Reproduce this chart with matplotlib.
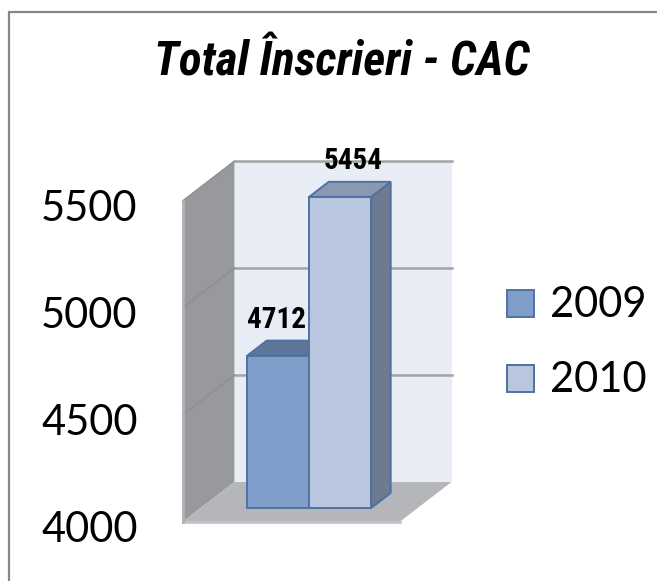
import matplotlib
matplotlib.use("Agg")
import matplotlib.pyplot as plt
from matplotlib.patches import Polygon, Rectangle
from matplotlib.lines import Line2D
from matplotlib.transforms import offset_copy
from matplotlib import font_manager as fm

# ---------------- data ----------------
title = "Total Înscrieri - CAC"
series = ["2009", "2010"]
values = [4712, 5454]
yticks = [4000, 4500, 5000, 5500]
ytick_labels = ["4000", "4500", "5000", "5500"]
v_min, v_max = 4000, 5500

# ---------------- style ----------------
front_colors = ["#7F9DC9", "#B8C6E0"]
top_colors = ["#5F7598", "#8B98AF"]
side_colors = ["#5A6C88", "#6E7A8F"]
edge_color = "#4F72A4"


def has_font(name):
    try:
        fm.findfont(fm.FontProperties(family=name), fallback_to_default=False)
        return True
    except Exception:
        return False


def find_narrow(italic):
    """Look for a narrow/condensed bold font file; return (FontProperties, is_narrow)."""
    cands = []
    for f in fm.fontManager.ttflist:
        nm = (f.name or "").lower()
        fn = (f.fname or "").lower()
        narrowish = ("narrow" in nm or "narrow" in fn or "condensed" in nm or "condensed" in fn
                     or str(f.stretch) in ("condensed", "semi-condensed", "extra-condensed"))
        if not narrowish:
            continue
        bold = ("bold" in fn) or (str(f.weight) in ("bold", "700", "heavy", "black")) or \
               (isinstance(f.weight, int) and f.weight >= 600)
        if not bold:
            continue
        if "extrabold" in fn or "black" in fn or "semibold" in fn:
            continue
        it = ("italic" in fn) or ("oblique" in fn) or f.style in ("italic", "oblique")
        score = 0
        if "liberation" in fn:
            score += 10
        elif "roboto" in fn:
            score += 6
        elif "dejavu" in fn:
            score += 2
        if it == italic:
            score += 5
        cands.append((score, f.fname))
    if cands:
        cands.sort(reverse=True)
        return fm.FontProperties(fname=cands[0][1]), True
    return None, False


body = "Lato" if has_font("Lato") else "DejaVu Sans"
title_fp, title_narrow = find_narrow(italic=True)
label_fp, label_narrow = find_narrow(italic=False)
if title_fp is None:
    title_fp = fm.FontProperties(family="Liberation Sans", weight="bold", style="italic")
if label_fp is None:
    label_fp = fm.FontProperties(family="Liberation Sans", weight="bold")
title_fp.set_size(34 if title_narrow else 29)
label_fp.set_size(21 if label_narrow else 18)

W, H = 657, 581
fig = plt.figure(figsize=(W / 100, H / 100), dpi=100)
fig.patch.set_facecolor("white")

# layout (pixels)
PX_PER_CAT = 62.0
PX_PER_VAL = 321.0 / 1500.0
X0_PX = 229.0   # x=0 at front plane
Y0_PX = 522.0   # v=v_min at front plane (from top)
DEPTH_X_PX, DEPTH_Y_PX = 52.0, 40.0

ax = fig.add_axes([0, 0, 1, 1])
ax.set_xlim(-X0_PX / PX_PER_CAT, (W - X0_PX) / PX_PER_CAT)
ax.set_ylim(v_min - (H - Y0_PX) / PX_PER_VAL, v_min + Y0_PX / PX_PER_VAL)
ax.axis("off")

DX = DEPTH_X_PX / PX_PER_CAT
DV = DEPTH_Y_PX / PX_PER_VAL


def P(x, v, t):
    return (x + t * DX, v + t * DV)


margin = 0.75
xl, xr = -margin, len(series) + margin

# walls & floor
side_wall = [P(xl, v_min, 0), P(xl, v_min, 1), P(xl, v_max, 1), P(xl, v_max, 0)]
floor = [P(xl, v_min, 0), P(xr, v_min, 0), P(xr, v_min, 1), P(xl, v_min, 1)]
back_wall = [P(xl, v_min, 1), P(xr, v_min, 1), P(xr, v_max, 1), P(xl, v_max, 1)]
ax.add_patch(Polygon(back_wall, closed=True, fc="#E8ECF5", ec="none", zorder=1))
ax.add_patch(Polygon(side_wall, closed=True, fc="#97999D", ec="none", zorder=1))
ax.add_patch(Polygon(floor, closed=True, fc="#B4B6BA", ec="none", zorder=1))

# gridlines
for v in yticks[1:]:
    (a, b), (c, d) = P(xl, v, 1), P(xr, v, 1)
    ax.add_line(Line2D([a, c], [b, d], color="#A3A3A3", lw=1.8, zorder=2))
    (a, b), (c, d) = P(xl, v, 0), P(xl, v, 1)
    ax.add_line(Line2D([a, c], [b, d], color="#8C8E92", lw=1.0, zorder=2))

# wall thickness hints
(a, b), (c, d) = P(xl, v_min, 0), P(xr, v_min, 0)
ax.add_line(Line2D([a, c], [b, d], color="#C4C5C8", lw=2.0, zorder=2))
(a, b), (c, d) = P(xl, v_min, 0), P(xl, v_max, 0)
ax.add_line(Line2D([a, c], [b, d], color="#B0B1B4", lw=2.0, zorder=2))

# bars
t0, t1 = 0.35, 0.725
for i, v in enumerate(values):
    x0, x1 = i, i + 1
    side = [P(x1, v_min, t0), P(x1, v_min, t1), P(x1, v, t1), P(x1, v, t0)]
    top = [P(x0, v, t0), P(x1, v, t0), P(x1, v, t1), P(x0, v, t1)]
    front = [P(x0, v_min, t0), P(x1, v_min, t0), P(x1, v, t0), P(x0, v, t0)]
    z = 3 + i
    ax.add_patch(Polygon(side, closed=True, fc=side_colors[i], ec=edge_color, lw=1.4, zorder=z))
    ax.add_patch(Polygon(top, closed=True, fc=top_colors[i], ec=edge_color, lw=1.4, zorder=z))
    ax.add_patch(Polygon(front, closed=True, fc=front_colors[i], ec=edge_color, lw=1.4, zorder=z))
    cx, cy = P(i + 0.5, v, (t0 + t1) / 2)
    dx_off = -11 if i == 0 else 3
    ax.text(cx, cy, f"{v}", transform=offset_copy(ax.transData, fig, x=dx_off, y=20, units="dots"),
            ha="center", va="baseline", fontproperties=label_fp, color="black", zorder=10)

# y tick labels on the front of the side wall
for v, lab in zip(yticks, ytick_labels):
    ax.text(xl, v, lab, transform=offset_copy(ax.transData, fig, x=-45, y=-20, units="dots"),
            ha="right", va="baseline", fontsize=30, family=body, color="black")

# title
fig.text(342 / W, 1 - 75 / H, title, ha="center", va="baseline",
         fontproperties=title_fp, color="black")

# legend
leg_y = [317, 392]
for i, name in enumerate(series):
    fig.add_artist(Rectangle((507 / W, 1 - leg_y[i] / H), 27 / W, 27 / H,
                             transform=fig.transFigure, fc=front_colors[i],
                             ec=edge_color, lw=1.4))
    fig.text(550 / W, 1 - leg_y[i] / H, name, ha="left", va="baseline",
             fontsize=30, family=body, color="black")

# outer border
fig.add_artist(Rectangle((9 / W, -0.1), 1.2, 1 - 12 / H + 0.1, transform=fig.transFigure,
                         fill=False, ec="#878787", lw=1.6))

fig.savefig("out.png", dpi=100)
